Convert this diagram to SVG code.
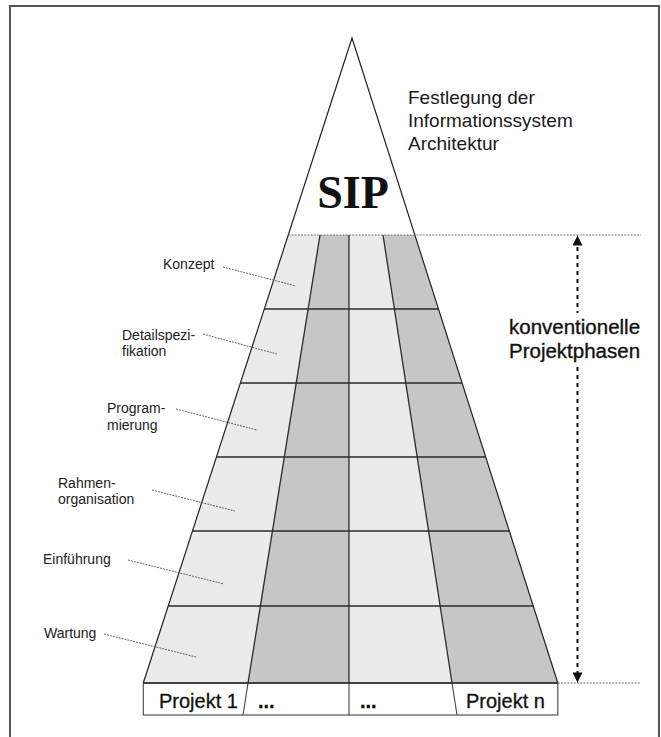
<svg xmlns="http://www.w3.org/2000/svg" width="661" height="737" viewBox="0 0 661 737">
<style>
.frame{fill:none;stroke:#555;stroke-width:2}
.edge{fill:none;stroke:#222;stroke-width:1.2}
.grid{fill:none;stroke:#2a2a2a;stroke-width:1.3}
.light{fill:#ebebeb}
.dark{fill:#c6c6c6}
.dot{fill:none;stroke:#666;stroke-width:0.9;stroke-dasharray:2 1.2}
.lead{fill:none;stroke:#555;stroke-width:0.9;stroke-dasharray:2 1}
.box{fill:#fff;stroke:#444;stroke-width:1.1}
.lbl{font-family:"Liberation Sans",Arial,sans-serif;font-size:14px;fill:#222}
.big{font-family:"Liberation Sans",Arial,sans-serif;font-size:19px;fill:#1a1a1a}
.phase{font-family:"Liberation Sans",Arial,sans-serif;font-size:20.5px;fill:#111;stroke:#111;stroke-width:0.35}
.proj{font-family:"Liberation Sans",Arial,sans-serif;font-size:20px;fill:#111;stroke:#111;stroke-width:0.3}
.sip{font-family:"Liberation Serif","Times New Roman",serif;font-size:46px;font-weight:bold;fill:#111}
</style>
<defs>
<marker id="ah" viewBox="0 0 10 10" refX="10" refY="5" markerWidth="12" markerHeight="10" markerUnits="userSpaceOnUse" orient="auto">
<path d="M0,0 L10,5 L0,10 z" fill="#111"/>
</marker>
</defs>
<rect class="frame" x="10" y="6" width="649" height="740"/>
<g id="apex">
<polygon points="352,38 288.3,235 414.8,235" fill="#fff"/>
<text class="sip" x="353" y="208" text-anchor="middle">SIP</text>
</g>
<g id="grid">
<polygon class="light" points="288.3,235 320,235 248,683 143.3,683"/>
<polygon class="dark" points="320,235 349,235 349,683 248,683"/>
<polygon class="light" points="349,235 383,235 452,683 349,683"/>
<polygon class="dark" points="383,235 414.8,235 557.8,683 452,683"/>
<line class="grid" x1="320" y1="235" x2="248" y2="683"/>
<line class="grid" x1="349" y1="235" x2="349" y2="683"/>
<line class="grid" x1="383" y1="235" x2="452" y2="683"/>
<line class="grid" x1="264.3" y1="309" x2="438.4" y2="309"/>
<line class="grid" x1="240.4" y1="383" x2="462" y2="383"/>
<line class="grid" x1="216.5" y1="457" x2="485.7" y2="457"/>
<line class="grid" x1="192.5" y1="531" x2="509.3" y2="531"/>
<line class="grid" x1="168.3" y1="606" x2="533.2" y2="606"/>
</g>
<g id="outline">
<polyline class="edge" points="143.3,683 352,38 557.8,683"/>
</g>
<g id="projects">
<rect class="box" x="143.3" y="683" width="414.5" height="32"/>
<line class="box" x1="248" y1="683" x2="243" y2="715"/>
<line class="box" x1="349" y1="683" x2="349" y2="715"/>
<line class="box" x1="452" y1="683" x2="457" y2="715"/>
<line class="grid" x1="143.3" y1="683" x2="557.8" y2="683"/>
<text class="proj" x="159" y="708">Projekt 1</text>
<text class="proj" x="258" y="708" font-weight="bold">...</text>
<text class="proj" x="360" y="708" font-weight="bold">...</text>
<text class="proj" x="466" y="708">Projekt n</text>
</g>
<g id="title">
<text class="big" x="408" y="104">Festlegung der</text>
<text class="big" x="408" y="127">Informationssystem</text>
<text class="big" x="408" y="150">Architektur</text>
</g>
<g id="connectors">
<line class="dot" x1="288.3" y1="235" x2="641" y2="235"/>
<line class="dot" x1="557.8" y1="683" x2="641" y2="683"/>
<line x1="577.5" y1="675" x2="577.5" y2="243" stroke="#111" stroke-width="2" stroke-dasharray="4 4"/>
<line x1="577.5" y1="245" x2="577.5" y2="235.5" stroke="#111" stroke-width="1" marker-end="url(#ah)"/>
<line x1="577.5" y1="673" x2="577.5" y2="682.5" stroke="#111" stroke-width="1" marker-end="url(#ah)"/>
<line class="lead" x1="223" y1="267" x2="296" y2="286"/>
<line class="lead" x1="203" y1="334" x2="277" y2="354"/>
<line class="lead" x1="176" y1="409" x2="257" y2="430"/>
<line class="lead" x1="152" y1="490" x2="235" y2="511"/>
<line class="lead" x1="128" y1="560" x2="224" y2="584"/>
<line class="lead" x1="104" y1="634" x2="196" y2="657"/>
</g>
<g id="phases-label">
<rect x="505" y="313" width="142" height="52" fill="#fff"/>
<text class="phase" x="509" y="334">konventionelle</text>
<text class="phase" x="509" y="358">Projektphasen</text>
</g>
<g id="labels">
<text class="lbl" x="163" y="269">Konzept</text>
<text class="lbl" x="122" y="340">Detailspezi-</text>
<text class="lbl" x="122" y="356">fikation</text>
<text class="lbl" x="107" y="413">Program-</text>
<text class="lbl" x="107" y="430">mierung</text>
<text class="lbl" x="58" y="488">Rahmen-</text>
<text class="lbl" x="58" y="504">organisation</text>
<text class="lbl" x="43" y="564">Einführung</text>
<text class="lbl" x="44" y="638">Wartung</text>
</g>
</svg>
